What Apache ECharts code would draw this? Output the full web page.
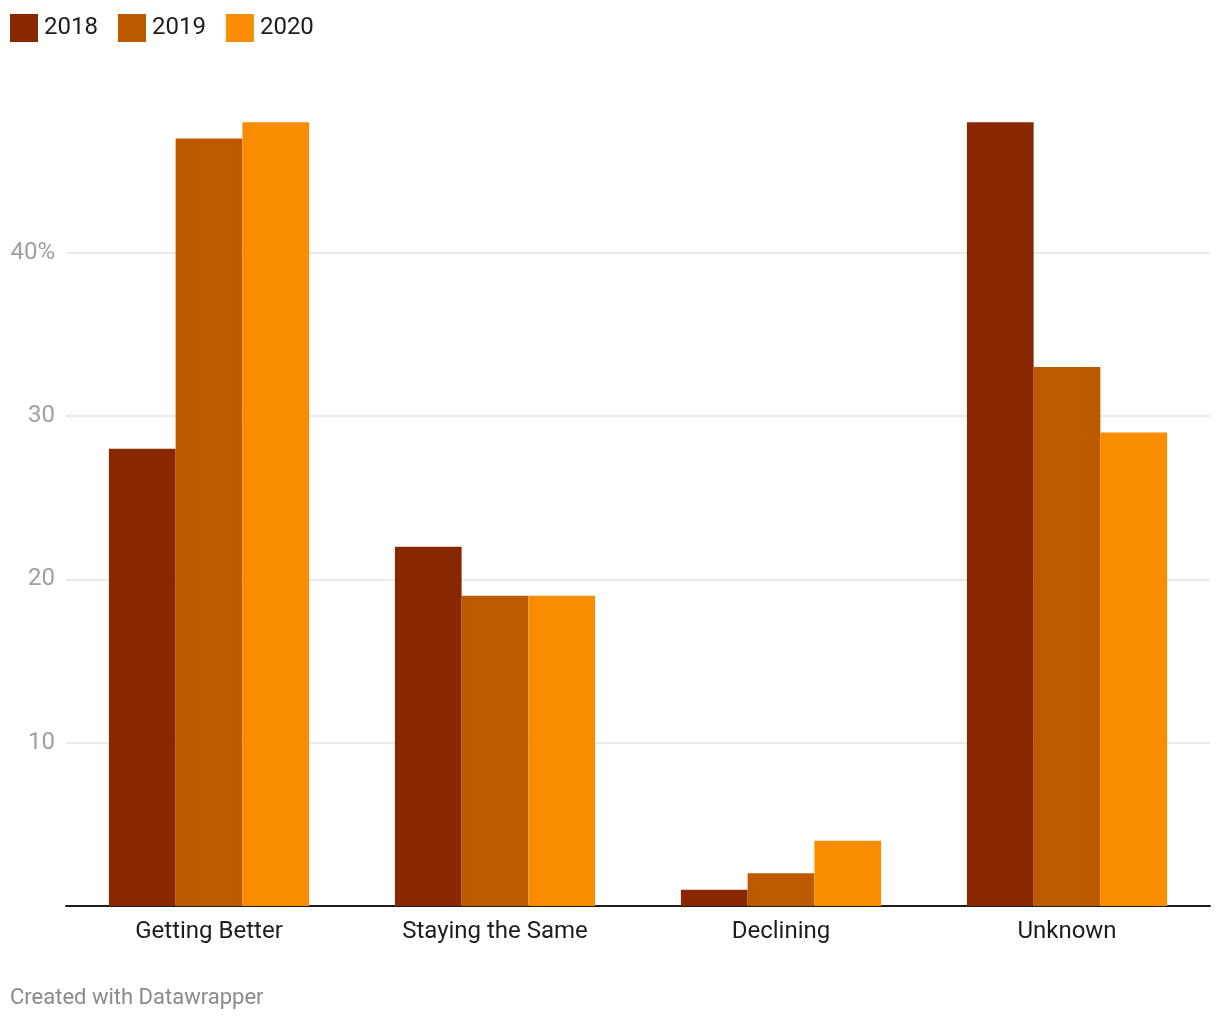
<!DOCTYPE html>
<html>
<head>
<meta charset="utf-8">
<script src="https://cdn.jsdelivr.net/npm/echarts@6/dist/echarts.min.js"></script>
<style>
html,body{margin:0;padding:0;background:#fff;}
#chart{width:1220px;height:1020px;}
</style>
</head>
<body>
<div id="chart"></div>
<script>
const categories = ['Getting Better', 'Staying the Same', 'Declining', 'Unknown'];
const seriesNames = ['2018', '2019', '2020'];
const values2018 = [28, 22, 1, 48];
const values2019 = [47, 19, 2, 33];
const values2020 = [48, 19, 4, 29];
const colors = ['#872800', '#bd5a00', '#fa8c00'];
const yTicks = [10, 20, 30, 40];

const chart = echarts.init(document.getElementById('chart'), null, {renderer: 'canvas'});
const font = 'Roboto, "Noto Sans", sans-serif';
const allValues = [values2018, values2019, values2020];

chart.setOption({
  animation: false,
  color: colors,
  textStyle: {fontFamily: font},
  legend: {
    left: 10, top: 14, padding: 0,
    itemWidth: 28, itemHeight: 28, itemGap: 20,
    icon: 'rect',
    textStyle: {fontSize: 24, color: '#1d1d1d', fontFamily: font, padding: [0, 0, 0, 1]},
    data: seriesNames
  },
  graphic: [{
    type: 'text', left: 10, top: 987,
    style: {text: 'Created with Datawrapper', fontSize: 22, fill: '#8a8a8a', fontFamily: font}
  }],
  grid: {left: 66, right: 10, top: 89.5, bottom: 114, containLabel: false},
  xAxis: {
    type: 'category',
    data: categories,
    axisLine: {lineStyle: {color: '#1d1d1d', width: 2}},
    axisTick: {show: false},
    axisLabel: {fontSize: 24, color: '#1d1d1d', margin: 14, fontFamily: font}
  },
  yAxis: {
    type: 'value', min: 0, max: 50, interval: 10,
    axisLine: {show: false}, axisTick: {show: false},
    axisLabel: {
      fontSize: 24, color: '#a0a0a0', margin: 11, fontFamily: font,
      showMinLabel: false, showMaxLabel: false,
      padding: [4, 0, 0, 0],
      formatter: function (v) { return yTicks.indexOf(v) < 0 ? '' : (v === 40 ? v + '%' : String(v)); }
    },
    splitLine: {show: true, showMinLine: false, showMaxLine: false, lineStyle: {color: '#e3e3e3', width: 1.5}}
  },
  series: seriesNames.map((n, i) => ({
    name: n, type: 'bar', data: allValues[i],
    barGap: '0%', barCategoryGap: '30%',
    itemStyle: {color: colors[i]}
  }))
});
</script>
</body>
</html>
